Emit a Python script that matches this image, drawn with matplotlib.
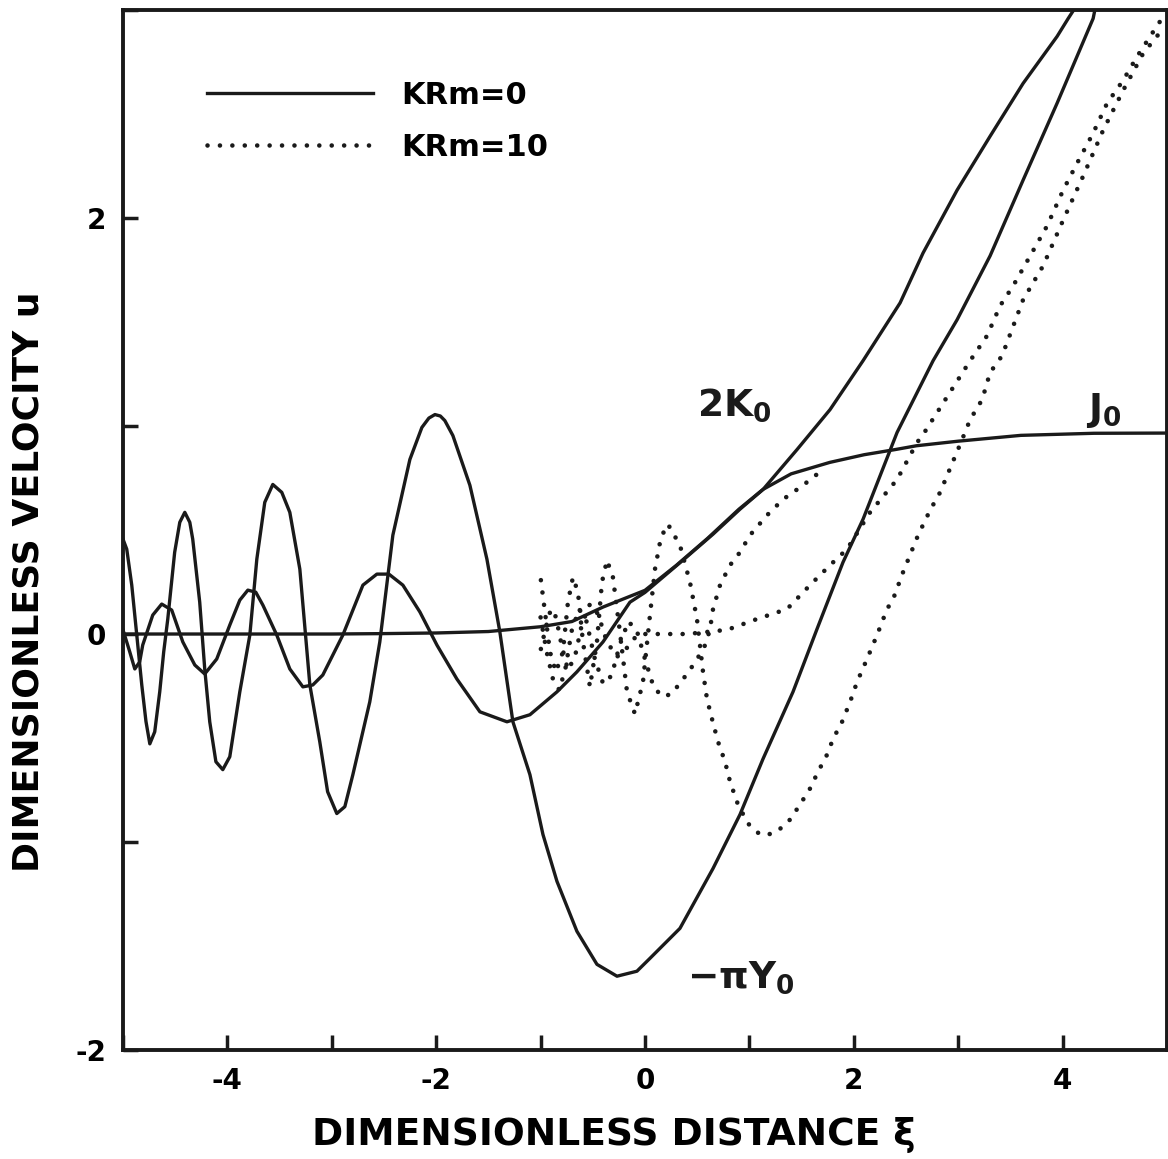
import matplotlib
matplotlib.use('Agg')
import matplotlib.pyplot as plt
import numpy as np

plt.rcParams['font.family'] = ['DejaVu Sans']
plt.rcParams['mathtext.fontset'] = 'dejavusans'

# -pi*Y0, KRm = 0
y0_x = [-5.00, -4.964, -4.916, -4.868, -4.820, -4.78, -4.743, -4.696, -4.648, -4.61, -4.571,
        -4.505, -4.456, -4.408, -4.36, -4.332, -4.265, -4.217, -4.169, -4.11, -4.044, -3.977,
        -3.881, -3.785, -3.718, -3.642, -3.565, -3.479, -3.402, -3.306, -3.21, -3.115, -3.04,
        -2.952, -2.875, -2.798, -2.636, -2.54, -2.415, -2.252, -2.137, -2.07, -2.012, -1.96,
        -1.917, -1.84, -1.677, -1.514, -1.39, -1.265, -1.102, -0.977, -0.843, -0.652, -0.46,
        -0.268, -0.077, 0.048, 0.335, 0.652, 0.91, 1.131, 1.418, 1.648, 1.897, 2.089, 2.415,
        2.76, 2.99, 3.306, 3.622, 3.948, 4.293, 4.33]
y0_u = [0.456, 0.408, 0.235, -0.005, -0.245, -0.42, -0.528, -0.47, -0.278, -0.086, 0.072,
        0.393, 0.537, 0.585, 0.537, 0.456, 0.153, -0.168, -0.422, -0.614, -0.652, -0.59,
        -0.278, -0.005, 0.36, 0.633, 0.719, 0.681, 0.585, 0.312, -0.245, -0.518, -0.758,
        -0.863, -0.83, -0.676, -0.326, -0.038, 0.475, 0.839, 0.993, 1.038, 1.055, 1.048,
        1.026, 0.954, 0.715, 0.36, 0.01, -0.422, -0.676, -0.964, -1.189, -1.429, -1.588,
        -1.645, -1.621, -1.559, -1.415, -1.127, -0.868, -0.6, -0.278, 0.024, 0.345, 0.552, 0.969,
        1.314, 1.511, 1.818, 2.182, 2.552, 2.959, 3.05]

# 2*K0, KRm = 0
k0_x = [-5.0, -4.935, -4.887, -4.84, -4.811, -4.715, -4.629, -4.533, -4.427, -4.312, -4.217,
        -4.102, -3.977, -3.881, -3.804, -3.728, -3.66, -3.527, -3.402, -3.277, -3.182, -3.086,
        -2.894, -2.702, -2.568, -2.453, -2.319, -2.156, -1.993, -1.802, -1.581, -1.322, -1.102,
        -0.843, -0.652, -0.402, -0.144, 0.0, 0.115, 0.364, 0.652, 0.91, 1.131, 1.457, 1.773,
        2.089, 2.444, 2.664, 2.99, 3.306, 3.622, 3.948, 4.054, 4.12]
k0_u = [0.02, -0.086, -0.168, -0.134, -0.053, 0.091, 0.144, 0.115, -0.038, -0.149, -0.192,
        -0.12, 0.043, 0.163, 0.211, 0.201, 0.139, -0.005, -0.168, -0.254, -0.245, -0.197,
        -0.005, 0.235, 0.288, 0.288, 0.235, 0.106, -0.053, -0.216, -0.374, -0.422, -0.388,
        -0.278, -0.182, -0.038, 0.153, 0.2, 0.249, 0.355, 0.48, 0.6, 0.695, 0.887, 1.079,
        1.314, 1.592, 1.832, 2.134, 2.393, 2.647, 2.873, 2.959, 3.01]

# J0, KRm = 0
j0_x = [-5.0, -3.0, -2.5, -2.0, -1.5, -1.0, -0.7, -0.4, -0.2, 0.0, 0.3, 0.6, 0.9, 1.13,
        1.4, 1.77, 2.1, 2.4, 2.6, 3.0, 3.6, 4.3, 5.0]
j0_u = [0.0, 0.0, 0.002, 0.005, 0.012, 0.035, 0.06, 0.13, 0.17, 0.21, 0.33, 0.46, 0.6, 0.695,
        0.77, 0.825, 0.862, 0.887, 0.905, 0.927, 0.955, 0.965, 0.966]

# KRm = 10 counterparts
dy_x = [-0.997, -0.958, -0.910, -0.853, -0.786, -0.738, -0.690, -0.642, -0.594, -0.527,
        -0.460, -0.412, -0.364, -0.307, -0.240, -0.172, -0.096, -0.019, 0.048, 0.096, 0.153,
        0.220, 0.335, 0.431, 0.498, 0.556, 0.594, 0.642, 0.7, 0.767, 0.815, 0.891, 0.987,
        1.102, 1.179, 1.265, 1.39, 1.485, 1.581, 1.658, 1.744, 1.802, 1.888, 1.965, 2.032,
        2.127, 2.223, 2.319, 2.377, 2.472, 2.616, 2.731, 2.827, 3.038, 3.115, 3.23, 3.306,
        3.421, 3.622, 3.814, 4.006, 4.197, 4.389, 4.581, 4.772, 4.964]
dy_u = [0.259, 0.106, -0.086, -0.182, -0.086, 0.153, 0.273, 0.201, -0.038, -0.254,
        -0.038, 0.249, 0.355, 0.273, 0.010, -0.278, -0.384, -0.230, 0.091, 0.312, 0.465,
        0.528, 0.427, 0.249, 0.072, -0.182, -0.312, -0.408, -0.518, -0.614, -0.71, -0.82,
        -0.911, -0.964, -0.964, -0.95, -0.892, -0.82, -0.743, -0.662, -0.58, -0.504, -0.422,
        -0.326, -0.23, -0.12, -0.005, 0.12, 0.168, 0.297, 0.475, 0.595, 0.681, 0.935, 1.031,
        1.127, 1.257, 1.338, 1.607, 1.77, 1.99, 2.201, 2.422, 2.614, 2.791, 2.911]

dk_x = [-0.997, -0.949, -0.901, -0.853, -0.795, -0.738, -0.671, -0.604, -0.527, -0.450,
        -0.364, -0.268, -0.163, -0.077, 0.0, 0.4, 0.786, 1.073, 1.361, 1.581, 1.773, 1.936,
        2.156, 2.415, 2.607, 2.664, 3.115, 3.277, 3.402, 3.527, 3.69, 3.852, 4.006, 4.14,
        4.293, 4.427, 4.581, 4.715, 4.839, 4.98]
dk_u = [-0.072, 0.034, 0.120, 0.082, -0.062, -0.173, -0.110, 0.048, 0.144, 0.096,
        -0.038, -0.110, -0.062, -0.005, 0.0, 0.0, 0.02, 0.072, 0.12, 0.235, 0.331, 0.408,
        0.585, 0.743, 0.921, 0.959, 1.314, 1.434, 1.578, 1.674, 1.818, 1.962, 2.134, 2.264,
        2.408, 2.552, 2.662, 2.777, 2.873, 2.98]

dj_x = [-1.0, -0.94, -0.88, -0.82, -0.76, -0.70, -0.63, -0.56, -0.48, -0.40, -0.32, -0.24,
        -0.16, -0.08, 0.0, 0.08, 0.16, 0.25, 0.33, 0.42, 0.5, 0.58, 0.623, 0.652, 0.719,
        0.815, 0.91, 1.006, 1.169, 1.322, 1.514, 1.706]
dj_u = [0.08, -0.09, -0.22, -0.27, -0.16, 0.02, 0.12, 0.06, -0.12, -0.24, -0.20, -0.05,
        0.06, 0.02, -0.12, -0.25, -0.30, -0.29, -0.24, -0.18, -0.12, -0.05, 0.024, 0.12, 0.235,
        0.331, 0.393, 0.475, 0.571, 0.647, 0.715, 0.791]

ink = '#1a1a1a'
lw = 2.4
dots = dict(color=ink, lw=3.3, linestyle=(0, (0.01, 2.7)), dash_capstyle='round')

fig = plt.figure(figsize=(11.68, 11.59), dpi=100)
ax = fig.add_axes([0.1053, 0.094, 0.8938, 0.8974])

ax.plot(j0_x, j0_u, color=ink, lw=lw, label='KRm=0')
ax.plot(k0_x, k0_u, color=ink, lw=lw)
ax.plot(y0_x, y0_u, color=ink, lw=lw)
ax.plot(dk_x, dk_u, label='KRm=10', **dots)
ax.plot(dy_x, dy_u, **dots)
ax.plot(dj_x, dj_u, **dots)

ax.set_xlim(-5, 5)
ax.set_ylim(-2, 3)
ax.set_xticks(np.arange(-5, 6, 1))
ax.set_xticklabels(['' if v % 2 else str(v) for v in range(-5, 6)])
ax.set_yticks(np.arange(-2, 4, 1))
ax.set_yticklabels(['-2', '', '0', '', '2', ''])
ax.tick_params(direction='in', length=11, width=2.5, labelsize=20, pad=12, color=ink)
for t in ax.get_xticklabels() + ax.get_yticklabels():
    t.set_fontweight('bold')
for s in ax.spines.values():
    s.set_linewidth(2.8)
    s.set_color(ink)

ax.set_xlabel('DIMENSIONLESS DISTANCE ξ', fontsize=27, fontweight='bold')
ax.xaxis.set_label_coords(0.47, -0.064)
ax.set_ylabel('DIMENSIONLESS VELOCITY u', fontsize=26, fontweight='bold')
ax.yaxis.set_label_coords(-0.074, 0.45)

ax.text(0.5, 1.05, r'$\mathbf{2K_0}$', fontsize=27, color=ink)
ax.text(4.22, 1.03, r'$\mathbf{J_0}$', fontsize=27, color=ink)
ax.text(0.4, -1.7, r'$\mathbf{-\pi Y_0}$', fontsize=27, color=ink)

leg = ax.legend(loc='upper left', bbox_to_anchor=(0.08, 0.932), frameon=False,
                fontsize=22, handlelength=5.46, handletextpad=0.9, labelspacing=0.75,
                borderpad=0, borderaxespad=0)
for t in leg.get_texts():
    t.set_fontweight('bold')

fig.savefig('out.png', dpi=100)
